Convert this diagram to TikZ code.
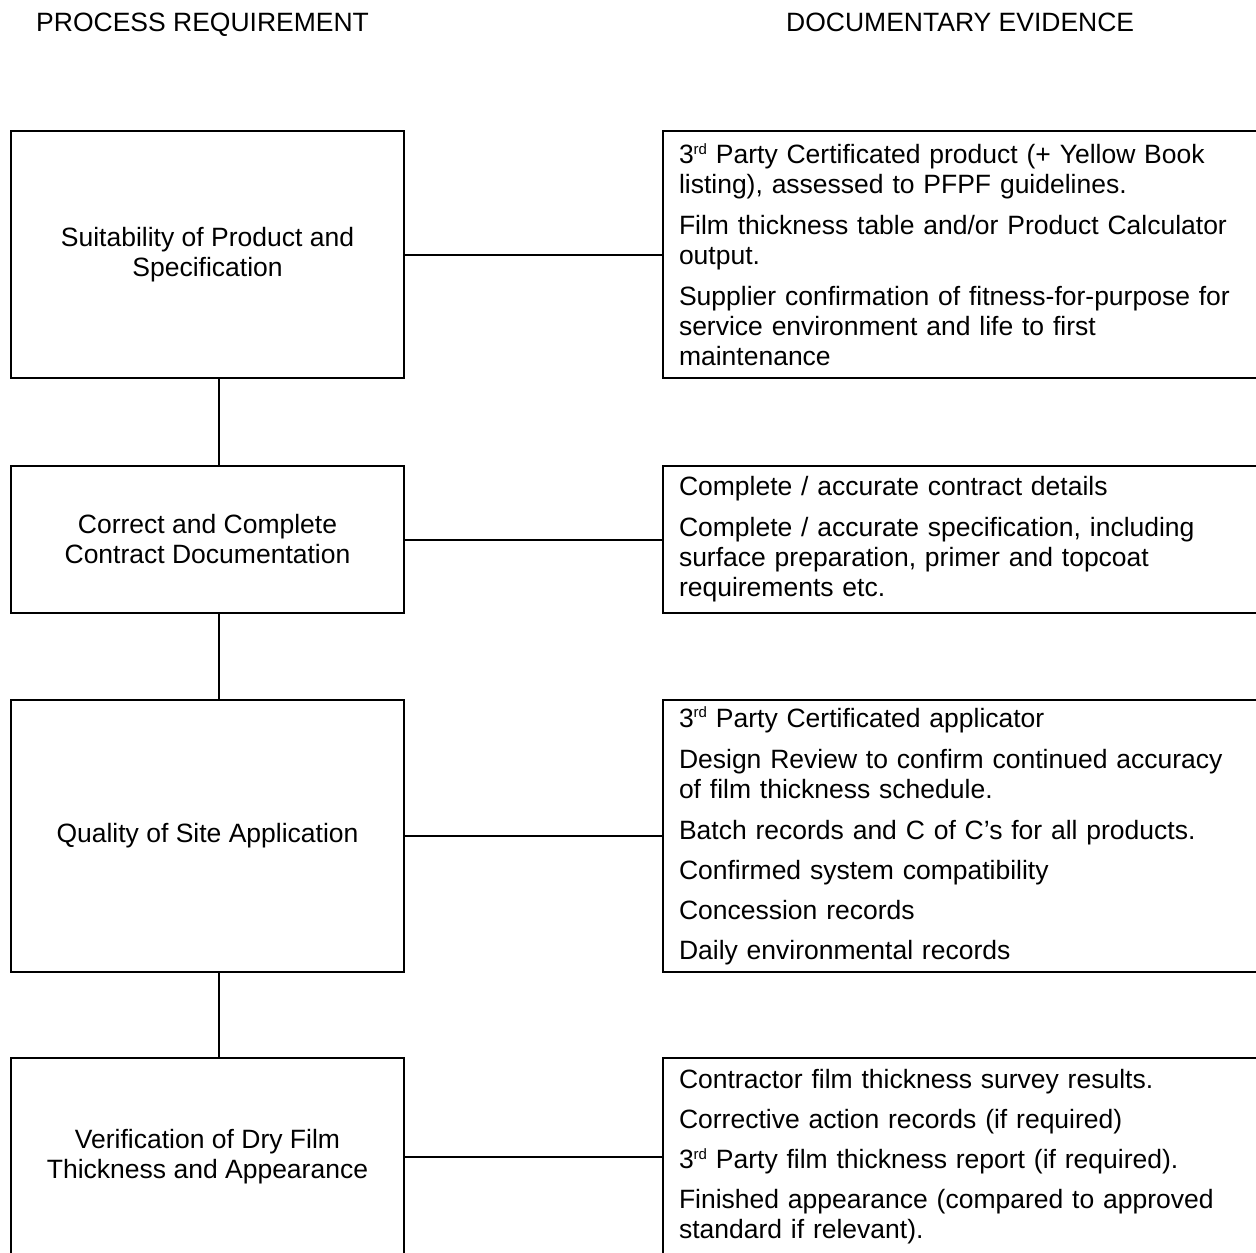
\documentclass[tikz,border=0pt]{standalone}
\usepackage{fontspec}
\setmainfont{Liberation Sans}
\newcommand\ordsup[1]{\raisebox{9.5pt}{\fontsize{15}{15}\selectfont #1}}
\begin{document}
\begin{tikzpicture}[x=1pt,y=-1pt,
  txt/.style={font=\fontsize{26.5}{30}\selectfont},
  lbox/.style={draw, line width=2pt, minimum width=393pt, inner sep=0pt, align=center, txt},
  rbox/.style={draw, line width=2pt, text width=580pt, inner xsep=16pt, inner ysep=0pt, align=left, txt},
  link/.style={line width=2pt}]
\useasboundingbox (0,0) rectangle (1256,1253);
\clip (0,0) rectangle (1256,1253);
\fill[white] (0,0) rectangle (1256,1253);

\node[txt, anchor=base west, inner sep=0pt] (h1) at (36,31) {PROCESS REQUIREMENT};
\node[txt, anchor=base west, inner sep=0pt] (h2) at (786,31) {DOCUMENTARY EVIDENCE};

\node[lbox, minimum height=247pt] (L1) at (207.5,254.5) {Suitability of Product and\\Specification};
\node[lbox, minimum height=147pt] (L2) at (207.5,539.5) {Correct and Complete\\Contract Documentation};
\node[lbox, minimum height=272pt] (L3) at (207.5,836) {Quality of Site Application};
\node[lbox, minimum height=198pt] (L4) at (207.5,1157) {Verification of Dry Film\\Thickness and Appearance};

\node[rbox, minimum height=247pt] (R1) at (969,254.5) {3\ordsup{rd} Party Certificated product (+ Yellow Book\\listing), assessed to PFPF guidelines.\\[11pt]Film thickness table and/or Product Calculator\\output.\\[11pt]Supplier confirmation of fitness-for-purpose for\\service environment and life to first\\maintenance};
\node[rbox, minimum height=147pt] (R2) at (969,539.5) {Complete / accurate contract details\\[11pt]Complete / accurate specification, including\\surface preparation, primer and topcoat\\requirements etc.};
\node[rbox, minimum height=272pt] (R3) at (969,836) {3\ordsup{rd} Party Certificated applicator\\[11pt]Design Review to confirm continued accuracy\\of film thickness schedule.\\[11pt]Batch records and C of C’s for all products.\\[10pt]Confirmed system compatibility\\[10pt]Concession records\\[10pt]Daily environmental records};
\node[rbox, minimum height=198pt] (R4) at (969,1157) {Contractor film thickness survey results.\\[10pt]Corrective action records (if required)\\[10pt]3\ordsup{rd} Party film thickness report (if required).\\[10pt]Finished appearance (compared to approved\\standard if relevant).};

\draw[link] (L1.east) -- (R1.west);
\draw[link] (L2.east) -- (R2.west);
\draw[link] (L3.east) -- (R3.west);
\draw[link] (L4.east) -- (R4.west);

\coordinate (vx) at (219,0);
\draw[link] (L1.south -| vx) -- (L2.north -| vx);
\draw[link] (L2.south -| vx) -- (L3.north -| vx);
\draw[link] (L3.south -| vx) -- (L4.north -| vx);
\end{tikzpicture}
\end{document}
